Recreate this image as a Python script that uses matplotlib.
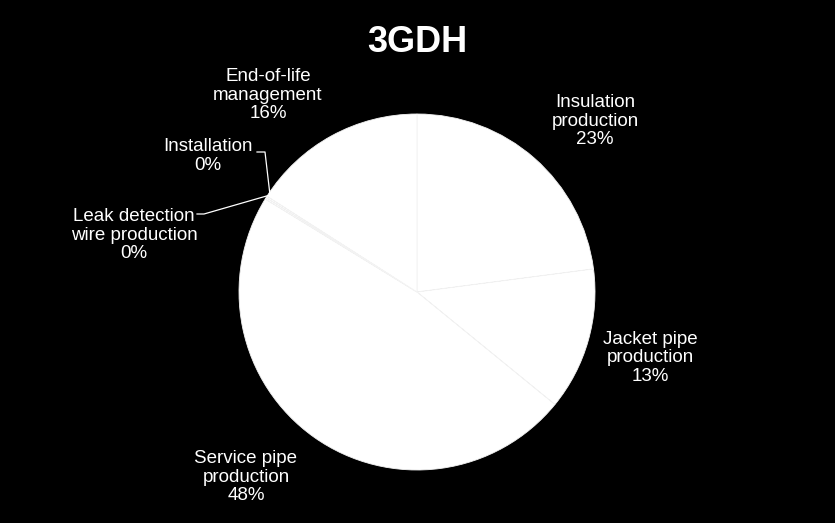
import matplotlib
matplotlib.use("Agg")
import matplotlib.pyplot as plt

plt.rcParams['font.family'] = ['Liberation Sans', 'DejaVu Sans']

title = "3GDH"
categories = ["Insulation\nproduction", "Jacket pipe\nproduction",
              "Service pipe\nproduction", "Leak detection\nwire production",
              "Installation", "End-of-life\nmanagement"]
shares = [23.0, 13.0, 48.0, 0.15, 0.15, 16.0]
pct_labels = ["23%", "13%", "48%", "0%", "0%", "16%"]

H = 523
fig = plt.figure(figsize=(8.35, 5.23), dpi=100, facecolor='black')
ax = fig.add_axes([0, 0, 1, 1])
ax.set_facecolor('black')
ax.axis('off')

cx, cy, R = 417, H - 292, 178
wedges, _ = ax.pie(shares, startangle=90, counterclock=False, center=(cx, cy),
                   radius=R, colors=['white'] * len(shares),
                   wedgeprops=dict(edgecolor='#f3f3f3', linewidth=0.6))
ax.set_aspect('equal')
ax.set_xlim(0, 835)
ax.set_ylim(0, H)

# label placement (pixel coords, top-left origin)
label_pos = [(595, 121), (650, 358), (246, 477), (134, 235), (208, 156), (268, 95)]
for cat, pct, (x, y) in zip(categories, pct_labels, label_pos):
    ax.text(x, H - y, cat + "\n" + pct, color='white', fontsize=13.5,
            ha='center', va='center', linespacing=1.15)

# leader lines for the tiny slices
ax.plot([257, 265, 270], [H - 152, H - 152, H - 195], color='white', lw=0.9)
ax.plot([197, 204, 270], [H - 214, H - 214, H - 195], color='white', lw=0.9)

ax.text(417, H - 43, title, color='white', fontsize=26, fontweight='bold',
        ha='center', va='center')

fig.savefig("out.png", dpi=100, facecolor='black')
